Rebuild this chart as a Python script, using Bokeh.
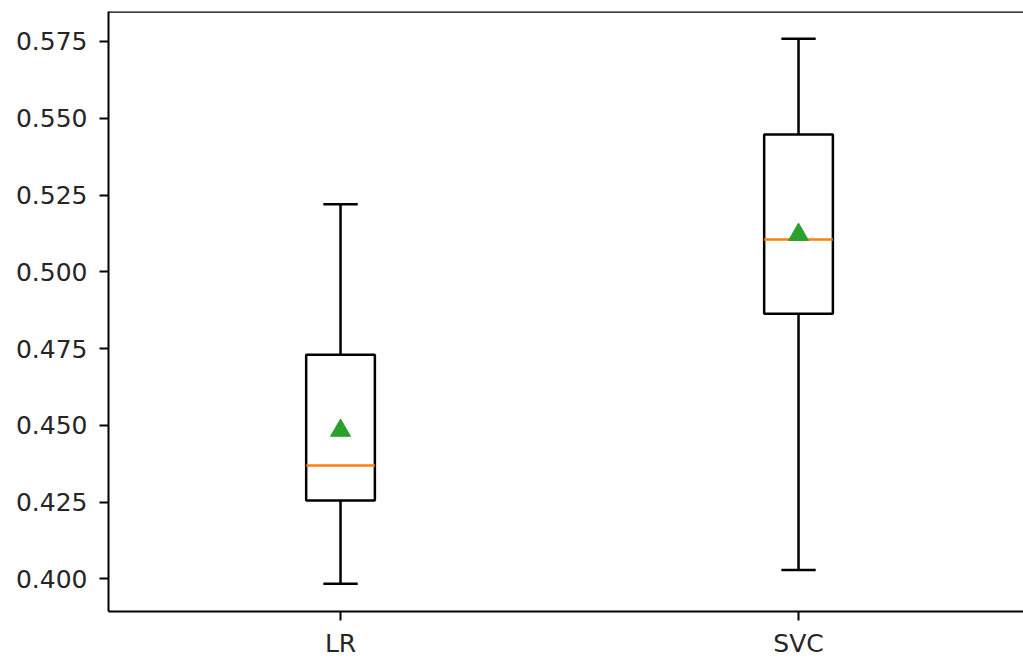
from bokeh.plotting import figure
from bokeh.models import Range1d, FixedTicker, Span, ColumnDataSource
from bokeh.embed import file_html
from bokeh.resources import INLINE

categories = ["LR", "SVC"]
whisker_low = [0.3984, 0.4029]
q1 = [0.4255, 0.4863]
median = [0.4369, 0.5105]
q3 = [0.4730, 0.5447]
whisker_high = [0.5220, 0.5759]
mean = [0.4483, 0.5121]
y_ticks = [0.400, 0.425, 0.450, 0.475, 0.500, 0.525, 0.550, 0.575]

pos = [i + 1 for i in range(len(categories))]
box_w = 0.15
cap_half = 0.0375

src = ColumnDataSource(dict(
    x=pos, lo=whisker_low, q1=q1, med=median, q3=q3, hi=whisker_high, mean=mean,
    x0=[p - box_w / 2 for p in pos], x1=[p + box_w / 2 for p in pos],
    c0=[p - cap_half for p in pos], c1=[p + cap_half for p in pos],
))

p = figure(width=1023, height=661, output_backend="svg", toolbar_location=None,
           x_range=Range1d(0.4934, 2.4912), y_range=Range1d(0.38935, 0.58477),
           min_border_left=108, min_border_right=0, min_border_top=11, min_border_bottom=50)
p.xgrid.visible = False
p.ygrid.visible = False
p.outline_line_color = None
p.background_fill_color = "white"
p.border_fill_color = "white"

lw = 2.5
# whiskers
p.segment(x0="x", y0="q3", x1="x", y1="hi", source=src, line_color="black", line_width=lw)
p.segment(x0="x", y0="lo", x1="x", y1="q1", source=src, line_color="black", line_width=lw)
# caps
p.segment(x0="c0", y0="hi", x1="c1", y1="hi", source=src, line_color="black", line_width=lw)
p.segment(x0="c0", y0="lo", x1="c1", y1="lo", source=src, line_color="black", line_width=lw)
# boxes
p.quad(left="x0", right="x1", bottom="q1", top="q3", source=src,
       fill_color="white", line_color="black", line_width=lw)
# medians
p.segment(x0="x0", y0="med", x1="x1", y1="med", source=src, line_color="#ff7f0e", line_width=lw)
# means
p.scatter(x="x", y="mean", source=src, marker="triangle", size=20,
          fill_color="#2ca02c", line_color="#2ca02c")

top = Span(location=0.58477, dimension="width", line_color="black", line_width=2.5)
p.add_layout(top)

for ax in (p.xaxis[0], p.yaxis[0]):
    ax.axis_line_color = "black"
    ax.axis_line_width = 2
    ax.major_tick_line_color = "black"
    ax.major_tick_line_width = 2
    ax.major_tick_out = 9
    ax.major_tick_in = 0
    ax.minor_tick_line_color = None
    ax.major_label_text_font = "DejaVu Sans"
    ax.major_label_text_font_size = "25px"
    ax.major_label_text_color = "#262626"

p.yaxis.ticker = FixedTicker(ticks=y_ticks)
p.yaxis.major_label_overrides = {t: f"{t:.3f}" for t in y_ticks}
p.yaxis.major_label_standoff = 12
p.xaxis.ticker = FixedTicker(ticks=pos)
p.xaxis.major_label_overrides = {pp: c for pp, c in zip(pos, categories)}
p.xaxis.major_label_standoff = 8

open("out.html", "w").write(file_html(p, INLINE))
